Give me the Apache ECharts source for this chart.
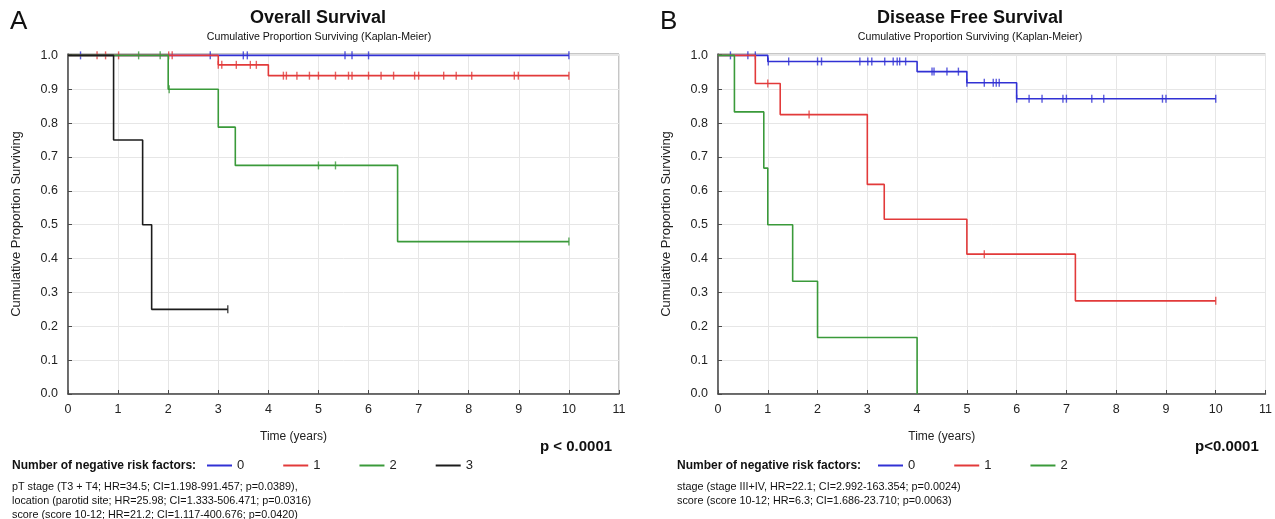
<!DOCTYPE html>
<html><head><meta charset="utf-8">
<script src="https://cdn.jsdelivr.net/npm/echarts@6/dist/echarts.min.js"></script>
<style>html,body{margin:0;padding:0;background:#fff}#c{width:1275px;height:519px}</style>
</head><body><div id="c"></div>
<script>
// ---------- data ----------
const groups = ['0', '1', '2', '3'];
const colors = ['#3131d4', '#e23a3a', '#3a9a3a', '#1c1c1c'];
const xTickLabels = ['0','1','2','3','4','5','6','7','8','9','10','11'];
const yTickLabels = ['0.0','0.1','0.2','0.3','0.4','0.5','0.6','0.7','0.8','0.9','1.0'];

// Overall Survival (event times / survival after event)
const osTimes0 = [0, 10.0];
const osSurv0  = [1, 1];
const osCens0  = [0.25, 2.84, 3.5, 3.58, 5.53, 5.67, 6.0, 10.0];

const osTimes1 = [0, 3.0, 4.0, 10.0];
const osSurv1  = [1, 0.972, 0.94, 0.94];
const osCens1  = [0.58, 0.75, 1.01, 2.01, 2.08, 3.0, 3.07, 3.36, 3.64, 3.76,
                  4.3, 4.36, 4.57, 4.82, 5.0, 5.34, 5.6, 5.67, 6.0, 6.25, 6.5,
                  6.92, 7.0, 7.5, 7.75, 8.06, 8.91, 8.99, 10.0];

const osTimes2 = [0, 2.0, 3.0, 3.34, 6.58, 10.0];
const osSurv2  = [1, 0.9, 0.788, 0.675, 0.45, 0.45];
const osCens2  = [1.41, 1.84, 2.02, 5.0, 5.34, 10.0];

const osTimes3 = [0, 0.91, 1.49, 1.67, 3.19];
const osSurv3  = [1, 0.75, 0.5, 0.25, 0.25];
const osCens3  = [3.19];

// Disease Free Survival
const dfsTimes0 = [0, 1.0, 4.0, 5.0, 6.0, 10.0];
const dfsSurv0  = [1, 0.982, 0.952, 0.919, 0.872, 0.872];
const dfsCens0  = [0.25, 0.6, 0.75, 1.01, 1.42, 2.0, 2.08, 2.85, 3.01, 3.09, 3.35,
                   3.52, 3.6, 3.65, 3.77, 4.3, 4.34, 4.6, 4.83, 5.0, 5.35, 5.53,
                   5.59, 5.65, 6.0, 6.25, 6.51, 6.93, 7.0, 7.51, 7.75, 8.93, 9.0, 10.0];

const dfsTimes1 = [0, 0.75, 1.25, 3.0, 3.34, 5.0, 7.18, 10.0];
const dfsSurv1  = [1, 0.917, 0.825, 0.619, 0.516, 0.413, 0.275, 0.275];
const dfsCens1  = [1.0, 1.83, 5.35, 10.0];

const dfsTimes2 = [0, 0.33, 0.92, 1.0, 1.5, 2.0, 4.0];
const dfsSurv2  = [1, 0.833, 0.667, 0.5, 0.333, 0.1667, 0];
const dfsCens2  = [];

const osCurves  = [[osTimes0, osSurv0, osCens0], [osTimes1, osSurv1, osCens1],
                   [osTimes2, osSurv2, osCens2], [osTimes3, osSurv3, osCens3]];
const dfsCurves = [[dfsTimes0, dfsSurv0, dfsCens0], [dfsTimes1, dfsSurv1, dfsCens1],
                   [dfsTimes2, dfsSurv2, dfsCens2]];

// ---------- build ----------
const FONT = "'Liberation Sans', Arial, sans-serif";
function survAt(times, surv, t) {
  let v = surv[0];
  for (let i = 0; i < times.length; i++) if (times[i] <= t + 1e-9) v = surv[i];
  return v;
}
const series = [];
function addCurves(curves, k) {
  curves.forEach((c, g) => {
    const [times, surv, cens] = c;
    series.push({
      type: 'line', name: groups[g], xAxisIndex: k, yAxisIndex: k, step: 'end',
      showSymbol: false, symbol: 'none', silent: true, animation: false,
      data: times.map((t, i) => [t, surv[i]]),
      lineStyle: { color: colors[g], width: 1.6 }, itemStyle: { color: colors[g] }
    });
    series.push({
      type: 'scatter', name: groups[g], xAxisIndex: k, yAxisIndex: k,
      symbol: 'rect', symbolSize: [1.4, 8], silent: true, animation: false,
      data: cens.map(t => [t, survAt(times, surv, t)]),
      itemStyle: { color: colors[g] }
    });
  });
}
addCurves(osCurves, 0);
addCurves(dfsCurves, 1);

function xAxis(k) {
  return {
    type: 'value', gridIndex: k, min: 0, max: 11, interval: 1,
    name: 'Time (years)', nameLocation: 'middle', nameGap: 37,
    nameTextStyle: { fontFamily: FONT, fontSize: 12, color: '#222', padding: [0, 100, 0, 0] },
    axisLine: { show: true, lineStyle: { color: '#4a4a4a', width: 1.5 } },
    axisTick: { show: true, inside: true, length: 4, lineStyle: { color: '#4a4a4a' } },
    axisLabel: { margin: 9, fontFamily: FONT, fontSize: 12.5, color: '#222',
      formatter: v => xTickLabels[Math.round(v)] ?? '' },
    splitLine: { show: true, lineStyle: { color: '#e6e6e6', width: 1 } }
  };
}
function yAxis(k) {
  return {
    type: 'value', gridIndex: k, min: 0, max: 1.004, interval: 0.1,
    name: 'Cumulative Proportion Surviving', nameLocation: 'middle', nameGap: 45,
    nameTextStyle: { fontFamily: FONT, fontSize: 13, color: '#222' },
    axisLine: { show: true, lineStyle: { color: '#4a4a4a', width: 1.5 } },
    axisTick: { show: true, inside: true, length: 4, lineStyle: { color: '#4a4a4a' } },
    axisLabel: { margin: 10, fontFamily: FONT, fontSize: 12.5, color: '#222',
      formatter: v => (Math.abs(v * 10 - Math.round(v * 10)) < 1e-6 ? yTickLabels[Math.round(v * 10)] : '') },
    splitLine: { show: true, lineStyle: { color: '#e6e6e6', width: 1 } }
  };
}
function txt(x, y, text, size, weight, align) {
  return { type: 'text', x: x, y: y, silent: true,
    style: { text: text, fontFamily: FONT, fontSize: size, fontWeight: weight || 'normal',
      fill: '#111', align: align || 'left', verticalAlign: 'middle' } };
}
const legendBase = {
  icon: 'rect', itemWidth: 25, itemHeight: 2, itemGap: 39, selectedMode: false, padding: 0,
  textStyle: { fontFamily: FONT, fontSize: 13, color: '#222' }
};

const option = {
  backgroundColor: '#fff',
  animation: false,
  grid: [
    { left: 68, top: 54, width: 551, height: 340, show: true, borderColor: '#8c8c8c', borderWidth: 1 },
    { left: 718, top: 54, width: 550, height: 340, show: true, borderColor: '#8c8c8c', borderWidth: 1 }
  ],
  xAxis: [xAxis(0), xAxis(1)],
  yAxis: [yAxis(0), yAxis(1)],
  legend: [
    Object.assign({ left: 207, top: 459, data: ['0', '1', '2', '3'] }, legendBase),
    Object.assign({ left: 878, top: 459, data: ['0', '1', '2'] }, legendBase)
  ],
  graphic: [
    txt(10, 22, 'A', 26),
    txt(660, 22, 'B', 26),
    txt(318, 18, 'Overall Survival', 18, 'bold', 'center'),
    txt(319, 37, 'Cumulative Proportion Surviving (Kaplan-Meier)', 10.6, 'normal', 'center'),
    txt(970, 18, 'Disease Free Survival', 18, 'bold', 'center'),
    txt(970, 37, 'Cumulative Proportion Surviving (Kaplan-Meier)', 10.6, 'normal', 'center'),
    txt(540, 447, 'p < 0.0001', 15, 'bold'),
    txt(1195, 447, 'p<0.0001', 15, 'bold'),
    txt(12, 466, 'Number of negative risk factors:', 12, 'bold'),
    txt(677, 466, 'Number of negative risk factors:', 12, 'bold'),
    txt(12, 487, 'pT stage (T3 + T4; HR=34.5; CI=1.198-991.457; p=0.0389),', 10.8),
    txt(12, 501, 'location (parotid site; HR=25.98; CI=1.333-506.471; p=0.0316)', 10.8),
    txt(12, 515, 'score (score 10-12; HR=21.2; CI=1.117-400.676; p=0.0420)', 10.8),
    txt(677, 487, 'stage (stage III+IV, HR=22.1; CI=2.992-163.354; p=0.0024)', 10.8),
    txt(677, 501, 'score (score 10-12; HR=6.3; CI=1.686-23.710; p=0.0063)', 10.8)
  ],
  series: series
};
const chart = echarts.init(document.getElementById('c'), null, { renderer: 'canvas' });
chart.setOption(option);
</script>
</body></html>
